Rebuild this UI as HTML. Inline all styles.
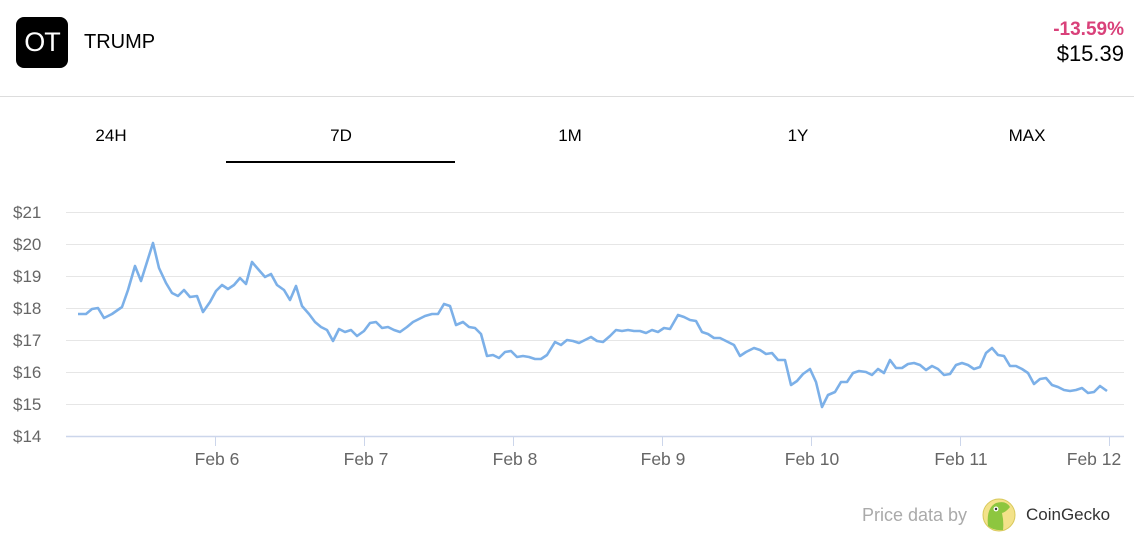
<!DOCTYPE html>
<html><head><meta charset="utf-8"><style>
body{margin:0;width:1134px;height:544px;background:#fff;font-family:"Liberation Sans",sans-serif;position:relative;overflow:hidden}
.a{position:absolute}
</style></head><body>
<div class="a" style="left:16px;top:17px;width:52px;height:51px;background:#000;border-radius:8px;color:#fff;font-size:27px;line-height:51px;text-align:center;letter-spacing:-1px">OT</div>
<div class="a" style="left:84px;top:31px;font-size:20px;color:#000">TRUMP</div>
<div class="a" style="right:10px;top:19px;font-size:19px;font-weight:bold;color:#d9417a">-13.59%</div>
<div class="a" style="right:10px;top:41px;font-size:22px;color:#000">$15.39</div>
<div class="a" style="left:0;top:96px;width:1134px;height:1px;background:#ddd"></div>
<div class="a" style="left:61px;top:126px;width:100px;text-align:center;font-size:17px">24H</div>
<div class="a" style="left:291px;top:126px;width:100px;text-align:center;font-size:17px">7D</div>
<div class="a" style="left:520px;top:126px;width:100px;text-align:center;font-size:17px">1M</div>
<div class="a" style="left:748px;top:126px;width:100px;text-align:center;font-size:17px">1Y</div>
<div class="a" style="left:977px;top:126px;width:100px;text-align:center;font-size:17px">MAX</div>
<div class="a" style="left:226px;top:161px;width:229px;height:2px;background:#000"></div>
<svg class="a" style="left:0;top:0" width="1134" height="544">
<g stroke="#e6e6e6" stroke-width="1">
<line x1="66" x2="1124" y1="212.5" y2="212.5"/><line x1="66" x2="1124" y1="244.5" y2="244.5"/><line x1="66" x2="1124" y1="276.5" y2="276.5"/><line x1="66" x2="1124" y1="308.5" y2="308.5"/><line x1="66" x2="1124" y1="340.5" y2="340.5"/><line x1="66" x2="1124" y1="372.5" y2="372.5"/><line x1="66" x2="1124" y1="404.5" y2="404.5"/>
</g>
<line x1="66" x2="1124" y1="436.5" y2="436.5" stroke="#ccd6eb" stroke-width="1.5"/>
<g stroke="#ccd6eb"><line x1="215.5" x2="215.5" y1="436" y2="446"/><line x1="364.5" x2="364.5" y1="436" y2="446"/><line x1="513.5" x2="513.5" y1="436" y2="446"/><line x1="662.5" x2="662.5" y1="436" y2="446"/><line x1="811.5" x2="811.5" y1="436" y2="446"/><line x1="960.5" x2="960.5" y1="436" y2="446"/><line x1="1109.5" x2="1109.5" y1="436" y2="446"/></g>
<g font-size="17" fill="#666" font-family="Liberation Sans,sans-serif">
<text x="13" y="218">$21</text><text x="13" y="250">$20</text><text x="13" y="282">$19</text><text x="13" y="314">$18</text><text x="13" y="346">$17</text><text x="13" y="378">$16</text><text x="13" y="410">$15</text><text x="13" y="442">$14</text>
<g text-anchor="middle" font-size="17.5"><text x="217" y="465">Feb 6</text><text x="366" y="465">Feb 7</text><text x="515" y="465">Feb 8</text><text x="663" y="465">Feb 9</text><text x="812" y="465">Feb 10</text><text x="961" y="465">Feb 11</text><text x="1094" y="465">Feb 12</text></g>
</g>
<polyline fill="none" stroke="#7cb0e8" stroke-width="2.6" stroke-linejoin="round" points="78,314 86,314 92,309 98,308 104,318 112,314 122,307 128,290 135,266 141,281 147,262 153,243 159,268 166,283 172,293 178,296 184,290 190,297 197,296 203,312 210,302 216,291 222,285 228,289 234,285 240,278 246,284 252,262 258,269 265,277 271,274 277,285 284,290 290,300 296,286 302,306 309,314 315,322 321,327 327,330 333,341 339,329 345,332 351,330 357,336 364,331 370,323 376,322 382,328 388,327 394,330 400,332 407,327 413,322 419,319 425,316 432,314 438,314 444,304 450,306 456,325 463,322 469,327 475,328 481,334 487,356 493,355 499,358 505,352 511,351 517,357 523,356 529,357 535,359 541,359 547,355 555,342 561,345 567,340 573,341 579,343 585,340 591,337 597,341 603,342 610,336 616,330 622,331 628,330 634,331 640,331 646,333 652,330 658,332 664,328 670,329 678,315 684,317 690,320 696,321 702,332 708,334 714,338 720,338 726,341 734,345 740,356 746,352 754,348 760,350 766,354 772,353 778,360 785,360 791,385 797,381 803,374 810,369 816,382 822,407 828,395 835,392 841,382 847,382 853,373 859,371 866,372 872,375 878,369 884,373 890,360 896,368 902,368 908,364 914,363 920,365 926,370 932,366 938,369 944,375 950,374 956,365 962,363 968,365 974,369 980,367 986,353 992,348 998,355 1004,356 1010,366 1016,366 1022,369 1028,373 1034,384 1040,379 1046,378 1052,385 1058,387 1064,390 1070,391 1076,390 1082,388 1088,393 1094,392 1100,386 1107,391"/>
<circle cx="999" cy="515" r="16" fill="#f3e28a" stroke="#d8c85a"/>
<path d="M988,526 Q986,508 996,503 Q1006,500 1010,507 Q1006,512 1002,513 Q1004,522 1003,530 Q994,531 988,526Z" fill="#8dc63f"/>
<circle cx="996" cy="509" r="2.5" fill="#fff"/><circle cx="996" cy="509" r="1.2" fill="#333"/>
</svg>
<div class="a" style="left:862px;top:505px;font-size:18px;color:#aaa">Price data by</div>
<div class="a" style="left:1026px;top:505px;font-size:17px;color:#333">CoinGecko</div>
</body></html>
